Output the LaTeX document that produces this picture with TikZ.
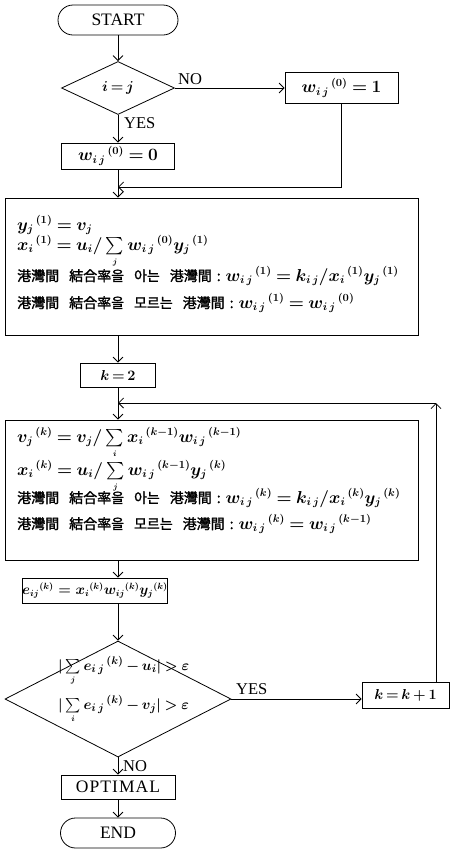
\documentclass[tikz,border=0pt]{standalone}
\usepackage{amsmath}
\usepackage{fontspec}
\setmainfont{Liberation Serif}
\newfontfamily\krfont[FakeBold=1.5]{Noto Sans CJK KR}
\usetikzlibrary{shapes.geometric,arrows.meta}
\newcommand\krKnow{{\krfont\fontsize{14}{16}\selectfont 港灣間\hspace{10pt}結合率을\hspace{10pt}아는\hspace{10pt}港灣間\hspace{5pt}:\hspace{5pt}}}
\newcommand\krUnknown{{\krfont\fontsize{14}{16}\selectfont 港灣間\hspace{10pt}結合率을\hspace{10pt}모르는\hspace{10pt}港灣間\hspace{5pt}:\hspace{5pt}}}
\newcommand\tsum[1]{\mathop{\textstyle\sum}\limits_{\scriptscriptstyle #1}}
\newcommand\up[1]{{}^{\,(#1)}}
\newcommand\upt[1]{{}^{(#1)}}
\newcommand\mspacing{\thickmuskip=4mu plus 2mu\relax\medmuskip=3mu plus 2mu\relax}
\begin{document}
\begin{tikzpicture}[x=1pt,y=-1pt,
  mfont/.style={font=\fontsize{16}{19}\selectfont\boldmath\mspacing},
  sfont/.style={font=\fontsize{15.5}{18}\selectfont\boldmath\mspacing},
  box/.style={draw, line width=0.8pt, inner sep=0pt, mfont},
  term/.style={box, rounded corners=15pt, font=\fontsize{17.5}{20}\selectfont},
  dia/.style={draw, diamond, line width=0.8pt, inner sep=0pt, mfont},
  arr/.style={line width=0.8pt, -{Straight Barb[length=5pt,width=10pt]}},
  lbl/.style={inner sep=0pt, font=\fontsize{16.5}{18}\selectfont},
  mline/.style={anchor=base west, inner sep=0pt, mfont}]
\useasboundingbox (0,0) rectangle (451,863);
% nodes
\node[term, minimum width=120pt, minimum height=30pt] (start) at (118,20) {START};
\node[dia, sfont, minimum width=113pt, minimum height=53pt] (d1) at (118,88) {$i\,{=}\,j$};
\node[box, minimum width=113pt, minimum height=31pt] (w1) at (341.5,88) {$w_{i\,j}\up{0}=1$};
\node[box, minimum width=113pt, minimum height=26pt] (w0) at (118,156) {$w_{i\,j}\up{0}=0$};
\node[box, minimum width=413pt, minimum height=137pt] (b1) at (211.5,266.5) {};
\node[box, sfont, minimum width=75pt, minimum height=24pt] (k2) at (118,375) {$k\,{=}\,2$};
\node[box, minimum width=413pt, minimum height=140pt] (b2) at (211.5,490) {};
\node[box, minimum width=140pt, minimum height=25pt, font=\fontsize{13.5}{15}\selectfont\boldmath] (e) at (95,590.5) {$e_{ij}\upt{k}=x_i\upt{k}w_{ij}\upt{k}y_j\upt{k}$};
\node[dia, minimum width=226pt, minimum height=116pt] (d2) at (118,699) {};
\node[box, sfont, minimum width=87pt, minimum height=26pt] (kk) at (405.5,695) {$k\,{=}\,k\,{+}\,1$};
\node[box, minimum width=114pt, minimum height=24pt, font=\fontsize{17.5}{20}\selectfont\addfontfeature{LetterSpace=6}] (opt) at (118,787) {OPTIMAL};
\node[term, minimum width=115pt, minimum height=30pt] (end) at (118,833) {END};
% texts in box 1
\node[mline] (l11) at (17,230) {$y_j\up{1}=v_j$};
\node[mline] (l12) at (17,250) {$x_i\up{1}=u_i/\tsum{j} w_{i\,j}\up{0}y_j\up{1}$};
\node[mline] (l13) at (17,281) {\krKnow$w_{i\,j}\up{1}=k_{i\,j}/x_i\up{1}y_j\up{1}$};
\node[mline] (l14) at (17,308) {\krUnknown$w_{i\,j}\up{1}=w_{i\,j}\up{0}$};
% texts in box 2
\node[mline] (l21) at (17,442) {$v_j\up{k}=v_j/\tsum{i} x_i\up{k-1}w_{i\,j}\up{k-1}$};
\node[mline] (l22) at (17,475) {$x_i\up{k}=u_i/\tsum{j} w_{i\,j}\up{k-1}y_j\up{k}$};
\node[mline] (l23) at (17,503) {\krKnow$w_{i\,j}\up{k}=k_{i\,j}/x_i\up{k}y_j\up{k}$};
\node[mline] (l24) at (17,529) {\krUnknown$w_{i\,j}\up{k}=w_{i\,j}\up{k-1}$};
% texts in diamond 2
\node[mline, sfont] (t1) at (58,670) {$|\tsum{j} e_{i\,j}\up{k}-u_i|>\varepsilon$};
\node[mline, sfont] (t2) at (58,709) {$|\tsum{i} e_{i\,j}\up{k}-v_j|>\varepsilon$};
% labels
\node[lbl, anchor=south west] (no1) at (178,85) {NO};
\node[lbl, anchor=north west] (yes1) at (124,117) {YES};
\node[lbl, anchor=south west] (yes2) at (236,695) {YES};
\node[lbl, anchor=north west] (no2) at (123,760) {NO};
% coordinates
\coordinate (m1) at (118,187);
\coordinate (m2) at (118,403);
\coordinate (c2) at (436,403);
% connectors
\draw[arr] (start) -- (d1);
\draw[arr] (d1) -- (w1);
\draw[arr] (d1) -- (w0);
\draw[arr] (w1.south) |- (m1);
\draw[arr] (w0) -- (w0 |- b1.north);
\draw[arr] (k2 |- b1.south) -- (k2);
\draw[arr] (k2) -- (k2 |- b2.north);
\draw[arr] (k2 |- b2.south) -- (k2 |- e.north);
\draw[arr] (k2 |- e.south) -- (d2);
\draw[arr] (d2.east) -- (d2.east -| kk.west);
\draw[arr] (kk.north -| c2) -- (c2);
\draw[arr] (c2) -- (m2);
\draw[arr] (d2) -- (opt);
\draw[arr] (opt) -- (end);
\end{tikzpicture}
\end{document}
